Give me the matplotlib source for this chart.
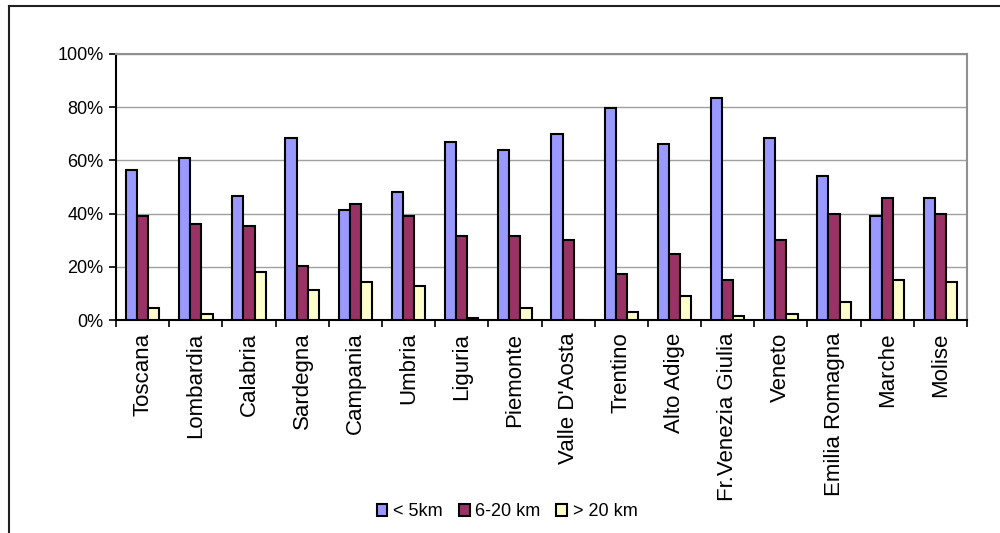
import numpy as np
import matplotlib.pyplot as plt
from matplotlib.lines import Line2D
from matplotlib.ticker import FixedLocator, PercentFormatter

# ---------------------------
# Dati
# ---------------------------
regioni = ["Toscana", "Lombardia", "Calabria", "Sardegna", "Campania", "Umbria",
           "Liguria", "Piemonte", "Valle D'Aosta", "Trentino", "Alto Adige",
           "Fr.Venezia Giulia", "Veneto", "Emilia Romagna", "Marche", "Molise"]
meno_5km = [56.4, 60.9, 46.7, 68.4, 41.4, 48.1, 66.9, 63.9, 69.9, 79.7,
            66.2, 83.5, 68.4, 54.1, 39.1, 45.9]
tra_6_20km = [39.1, 36.1, 35.3, 20.3, 43.6, 39.1, 31.6, 31.6, 30.1, 17.3,
              24.8, 15.0, 30.1, 39.8, 45.9, 39.8]
oltre_20km = [4.6, 2.3, 18.0, 11.3, 14.3, 12.8, 0.75, 4.6, 0.0, 3.0,
              9.0, 1.5, 2.3, 6.8, 15.0, 14.3]
serie = ["< 5km", "6-20 km", "> 20 km"]
colori = ["#9999FF", "#993366", "#FFFFCC"]

plt.rcParams['font.family'] = ['Liberation Sans', 'DejaVu Sans']

fig = plt.figure(figsize=(10, 5.33), dpi=100)
ax = fig.add_axes([0.116, 0.3996, 0.851, 0.4991])

# ---------------------------
# Barre
# ---------------------------
x = np.arange(len(regioni))
w = 0.21
for i, (valori, nome, col) in enumerate(zip([meno_5km, tra_6_20km, oltre_20km], serie, colori)):
    ax.bar(x + (i - 1) * w, valori, width=w, color=col, edgecolor='black',
           linewidth=1.5, label=nome, zorder=3)

ax.set_xlim(-0.5, len(regioni) - 0.5)
ax.set_ylim(0, 100)

# griglia e assi
ax.yaxis.set_major_locator(FixedLocator([0, 20, 40, 60, 80, 100]))
ax.yaxis.set_major_formatter(PercentFormatter(decimals=0))
ax.grid(axis='y', color='#a0a0a0', linewidth=1.0, zorder=0)
for lato in ['top', 'right']:
    ax.spines[lato].set_color('#909090')
for lato in ['top', 'right', 'left', 'bottom']:
    ax.spines[lato].set_linewidth(1.5)

ax.set_xticks(np.arange(-0.5, len(regioni), 1.0))
ax.set_xticklabels([])
ax.set_xticks(x, minor=True)
ax.set_xticklabels(regioni, minor=True, rotation=90, fontsize=16,
                   ha='center', va='top')
ax.tick_params(axis='x', which='major', direction='out', length=5, width=1.2)
ax.tick_params(axis='x', which='minor', length=0, pad=9)
ax.tick_params(axis='y', direction='out', length=5, width=1.2, labelsize=13, pad=4)

# legenda
fig.legend(loc='center', bbox_to_anchor=(0.507, 0.04), ncol=3, frameon=False,
           fontsize=13, handlelength=0.6, handleheight=0.6, handletextpad=0.3,
           columnspacing=0.9)

# cornice esterna
fig.add_artist(Line2D([0.0085, 0.0085], [0, 0.989], color='#202020', linewidth=1.5,
                      transform=fig.transFigure))
fig.add_artist(Line2D([0.0085, 1.0], [0.989, 0.989], color='#202020', linewidth=1.5,
                      transform=fig.transFigure))

plt.savefig("out.png", dpi=100)
plt.close()
